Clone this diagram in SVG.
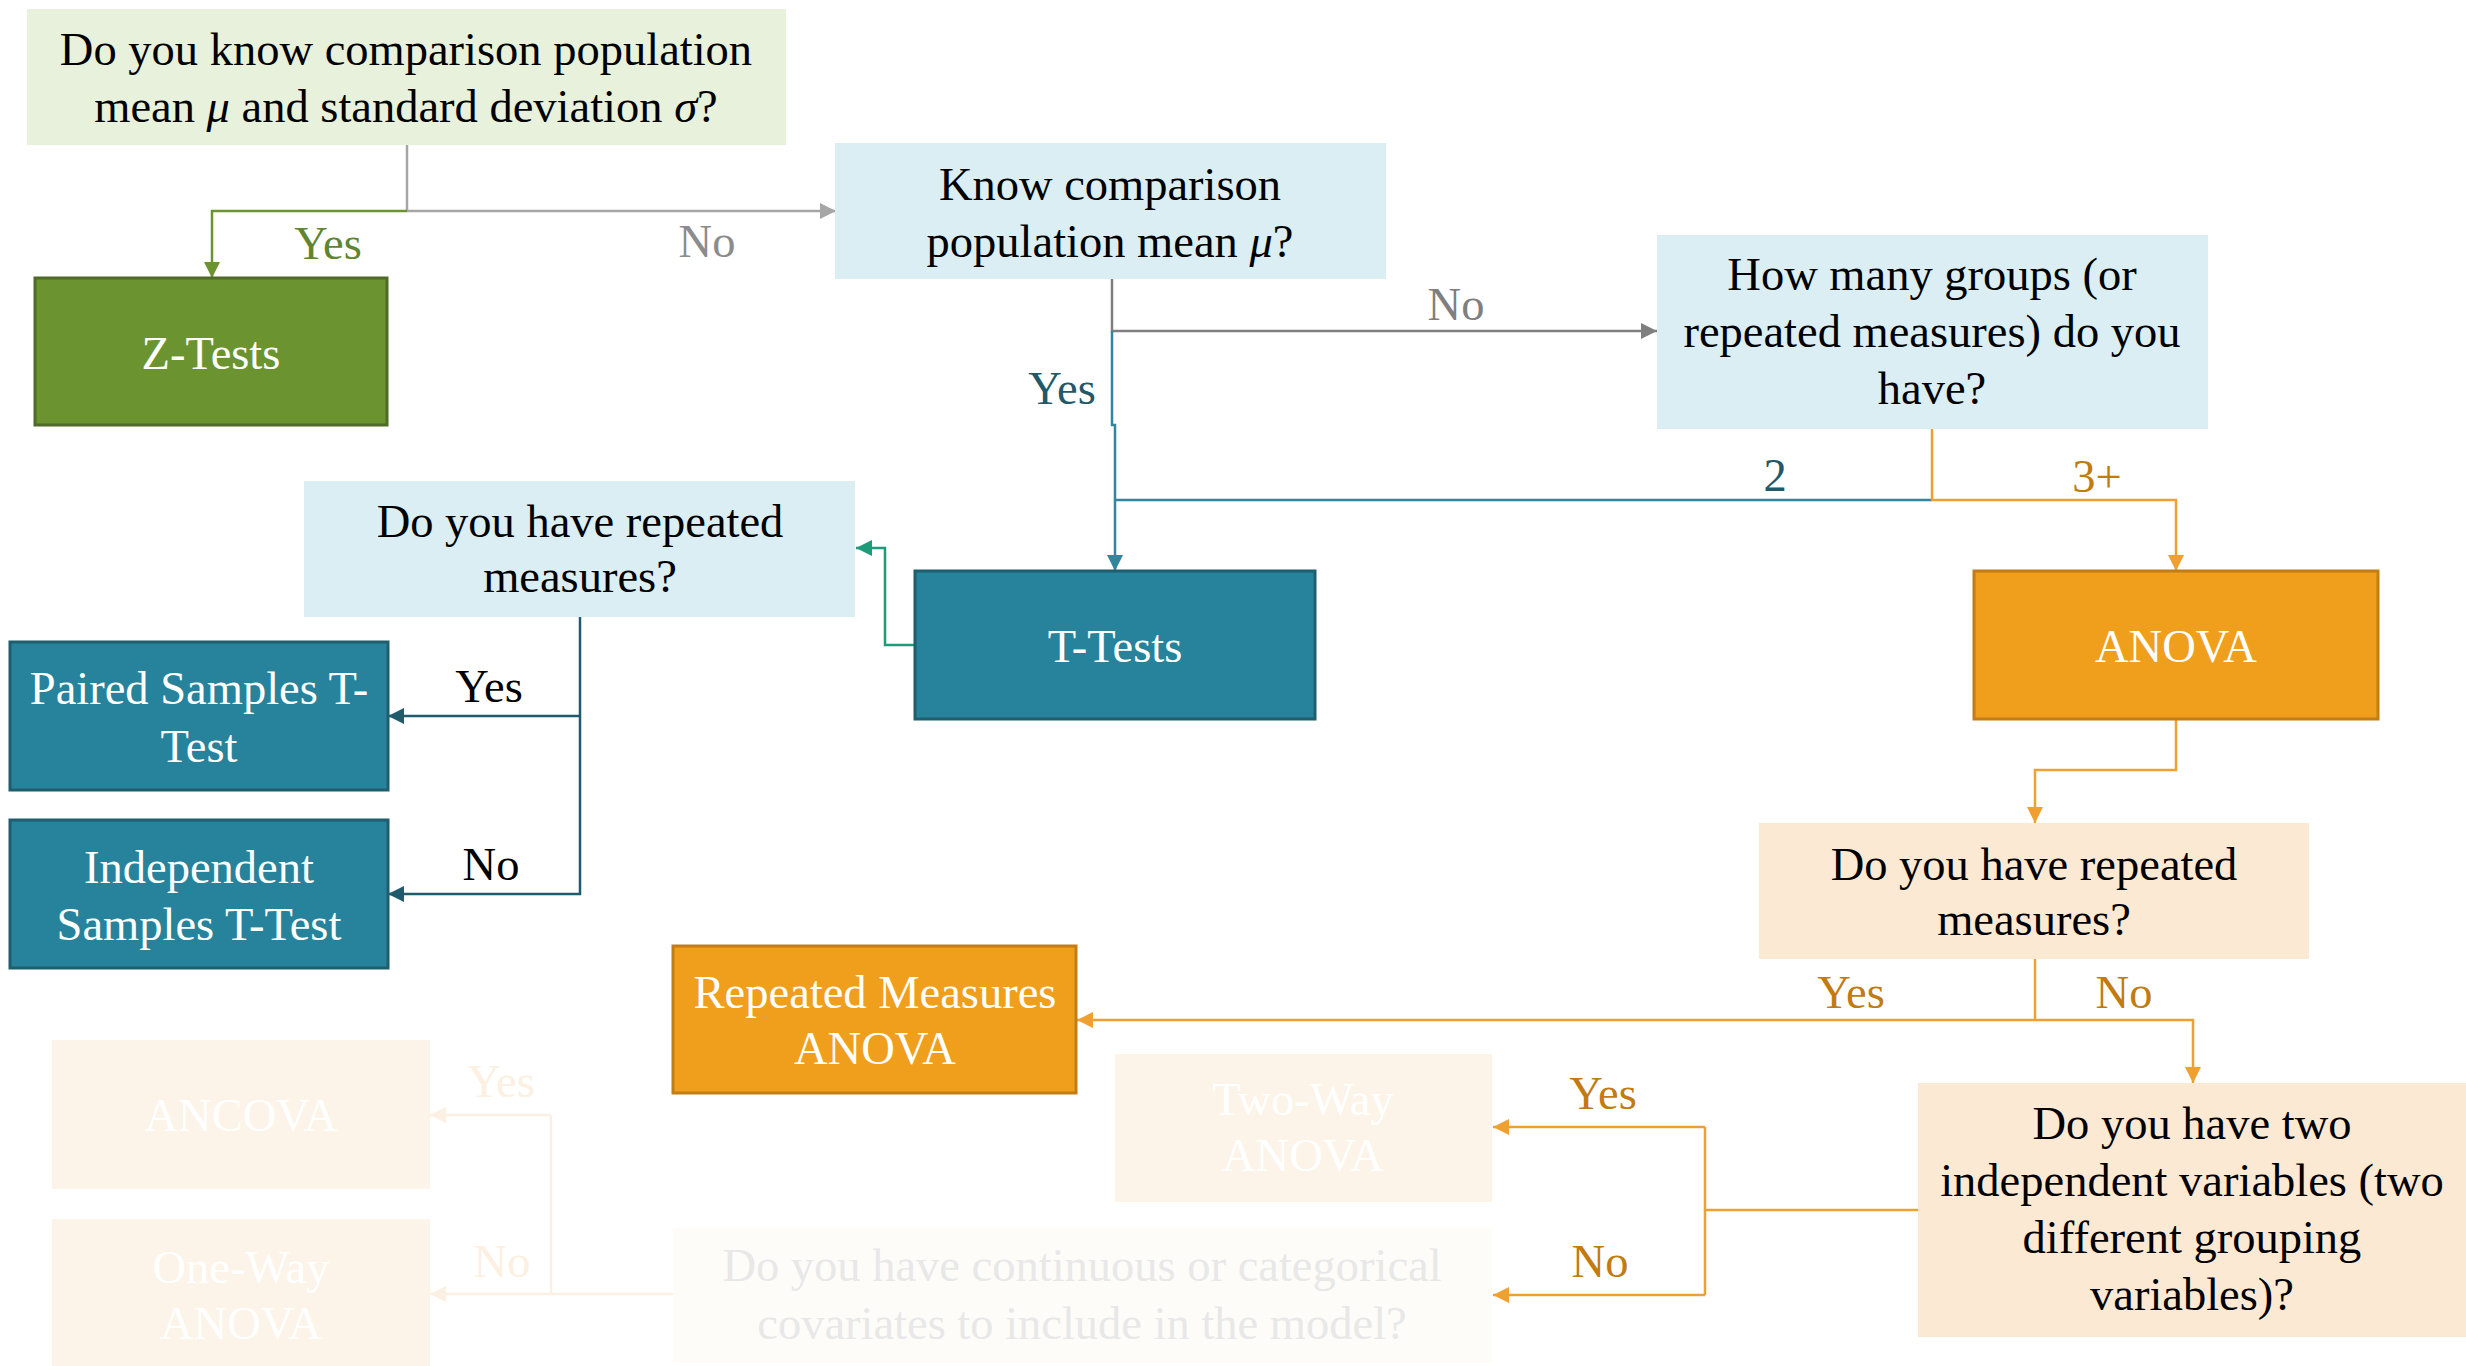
<svg xmlns="http://www.w3.org/2000/svg" width="2466" height="1366" viewBox="0 0 2466 1366">
<defs>
<style>
text{font-family:"Liberation Serif","Times New Roman",serif;font-size:46.5px;text-anchor:middle}
.dark{fill:#000}
.wt{fill:#fff}
.ln{fill:none;stroke-width:2.5}
.qg{fill:#E7F1DB}
.qb{fill:#DAEEF3}
.qo{fill:#FCE9D3}
.fz{fill:#6B9431;stroke:#4F6B27;stroke-width:3}
.ft{fill:#26839B;stroke:#1F5E6E;stroke-width:3}
.fo{fill:#F09F1C;stroke:#C27D14;stroke-width:3}
.ff{fill:#FCF4E8}
.fq{fill:#FEFCF9}
</style>
<marker id="aGray" markerUnits="userSpaceOnUse" markerWidth="16" markerHeight="16" refX="16" refY="8" orient="auto"><path d="M0,0 L16,8 L0,16 z" fill="#A6A6A6"/></marker>
<marker id="aGray2" markerUnits="userSpaceOnUse" markerWidth="16" markerHeight="16" refX="16" refY="8" orient="auto"><path d="M0,0 L16,8 L0,16 z" fill="#7F7F7F"/></marker>
<marker id="aGreen" markerUnits="userSpaceOnUse" markerWidth="16" markerHeight="16" refX="16" refY="8" orient="auto"><path d="M0,0 L16,8 L0,16 z" fill="#6B9431"/></marker>
<marker id="aTeal" markerUnits="userSpaceOnUse" markerWidth="16" markerHeight="16" refX="16" refY="8" orient="auto"><path d="M0,0 L16,8 L0,16 z" fill="#31859C"/></marker>
<marker id="aSea" markerUnits="userSpaceOnUse" markerWidth="16" markerHeight="16" refX="16" refY="8" orient="auto"><path d="M0,0 L16,8 L0,16 z" fill="#1E9B78"/></marker>
<marker id="aDTeal" markerUnits="userSpaceOnUse" markerWidth="16" markerHeight="16" refX="16" refY="8" orient="auto"><path d="M0,0 L16,8 L0,16 z" fill="#1F5B6B"/></marker>
<marker id="aOr" markerUnits="userSpaceOnUse" markerWidth="16" markerHeight="16" refX="16" refY="8" orient="auto"><path d="M0,0 L16,8 L0,16 z" fill="#F0A030"/></marker>
<marker id="aFd" markerUnits="userSpaceOnUse" markerWidth="16" markerHeight="16" refX="16" refY="8" orient="auto"><path d="M0,0 L16,8 L0,16 z" fill="#FBF0E1"/></marker>
</defs>

<g id="connectors">
<path class="ln" stroke="#A6A6A6" d="M407 145 V211"/>
<path class="ln" stroke="#A6A6A6" d="M407 211 H836" marker-end="url(#aGray)"/>
<path class="ln" stroke="#6B9431" d="M407 211 H212 V278" marker-end="url(#aGreen)"/>
<path class="ln" stroke="#7F7F7F" d="M1112 279 V331 H1657" marker-end="url(#aGray2)"/>
<path class="ln" stroke="#31859C" d="M1112 331 V425 H1115 V571" marker-end="url(#aTeal)"/>
<path class="ln" stroke="#31859C" d="M1932 500 H1115"/>
<path class="ln" stroke="#F0A030" d="M1932 429 V500 H2176 V571" marker-end="url(#aOr)"/>
<path class="ln" stroke="#1E9B78" d="M915 645 H885 V548 H856" marker-end="url(#aSea)"/>
<path class="ln" stroke="#1F5B6B" d="M580 617 V894 H388" marker-end="url(#aDTeal)"/>
<path class="ln" stroke="#1F5B6B" d="M580 716 H388" marker-end="url(#aDTeal)"/>
<path class="ln" stroke="#F0A030" d="M2176 719 V770 H2035 V823" marker-end="url(#aOr)"/>
<path class="ln" stroke="#F0A030" d="M2035 959 V1020 H1077" marker-end="url(#aOr)"/>
<path class="ln" stroke="#F0A030" d="M2035 1020 H2193 V1083" marker-end="url(#aOr)"/>
<path class="ln" stroke="#F0A030" d="M1918 1210 H1705 M1705 1127 V1295"/>
<path class="ln" stroke="#F0A030" d="M1705 1127 H1493" marker-end="url(#aOr)"/>
<path class="ln" stroke="#F0A030" d="M1705 1295 H1493" marker-end="url(#aOr)"/>
<path class="ln" stroke="#FBF0E1" d="M673 1294 H551 M551 1115 V1294"/>
<path class="ln" stroke="#FBF0E1" d="M551 1115 H430" marker-end="url(#aFd)"/>
<path class="ln" stroke="#FBF0E1" d="M551 1294 H430" marker-end="url(#aFd)"/>
<text x="328" y="259" fill="#5F8530">Yes</text>
<text x="707" y="257" fill="#8C8C8C">No</text>
<text x="1456" y="320" fill="#7F7F7F">No</text>
<text x="1062" y="404" fill="#215967">Yes</text>
<text x="1775" y="491" fill="#215967">2</text>
<text x="2097" y="492" fill="#C27B11">3+</text>
<text x="489" y="702" fill="#000">Yes</text>
<text x="491" y="880" fill="#000">No</text>
<text x="1851" y="1008" fill="#C27B11">Yes</text>
<text x="2124" y="1008" fill="#C27B11">No</text>
<text x="1603" y="1109" fill="#C27B11">Yes</text>
<text x="1600" y="1277" fill="#C27B11">No</text>
<text x="501" y="1097" fill="#FBF0E1">Yes</text>
<text x="502" y="1277" fill="#FBF0E1">No</text>
</g>

<g id="q-know-mu-sigma">
<rect class="qg" x="27" y="9" width="759" height="136"/>
<text class="dark" x="406" y="65">Do you know comparison population</text>
<text class="dark" x="406" y="122">mean <tspan font-style="italic">μ</tspan> and standard deviation <tspan font-style="italic">σ</tspan>?</text>
</g>

<g id="z-tests">
<rect class="fz" x="35" y="278" width="352" height="147"/>
<text class="wt" x="211" y="369">Z-Tests</text>
</g>

<g id="q-know-mu">
<rect class="qb" x="835" y="143" width="551" height="136"/>
<text class="dark" x="1110" y="200">Know comparison</text>
<text class="dark" x="1110" y="257">population mean <tspan font-style="italic">μ</tspan>?</text>
</g>

<g id="q-groups">
<rect class="qb" x="1657" y="235" width="551" height="194"/>
<text class="dark" x="1932" y="290">How many groups (or</text>
<text class="dark" x="1932" y="347">repeated measures) do you</text>
<text class="dark" x="1932" y="404">have?</text>
</g>

<g id="t-tests">
<rect class="ft" x="915" y="571" width="400" height="148"/>
<text class="wt" x="1115" y="662">T-Tests</text>
</g>

<g id="anova">
<rect class="fo" x="1974" y="571" width="404" height="148"/>
<text class="wt" x="2176" y="662">ANOVA</text>
</g>

<g id="q-repeated-t">
<rect class="qb" x="304" y="481" width="551" height="136"/>
<text class="dark" x="580" y="537">Do you have repeated</text>
<text class="dark" x="580" y="592">measures?</text>
</g>

<g id="paired-t">
<rect class="ft" x="10" y="642" width="378" height="148"/>
<text class="wt" x="199" y="704">Paired Samples T-</text>
<text class="wt" x="199" y="762">Test</text>
</g>

<g id="independent-t">
<rect class="ft" x="10" y="820" width="378" height="148"/>
<text class="wt" x="199" y="883">Independent</text>
<text class="wt" x="199" y="940">Samples T-Test</text>
</g>

<g id="q-repeated-anova">
<rect class="qo" x="1759" y="823" width="550" height="136"/>
<text class="dark" x="2034" y="880">Do you have repeated</text>
<text class="dark" x="2034" y="935">measures?</text>
</g>

<g id="rm-anova">
<rect class="fo" x="673" y="946" width="403" height="147"/>
<text class="wt" x="875" y="1008">Repeated Measures</text>
<text class="wt" x="875" y="1064">ANOVA</text>
</g>

<g id="q-two-iv">
<rect class="qo" x="1918" y="1083" width="560" height="254"/>
<text class="dark" x="2192" y="1139">Do you have two</text>
<text class="dark" x="2192" y="1196">independent variables (two</text>
<text class="dark" x="2192" y="1253">different grouping</text>
<text class="dark" x="2192" y="1310">variables)?</text>
</g>

<g id="two-way-anova">
<rect class="ff" x="1115" y="1054" width="377" height="148"/>
<text class="wt" x="1303" y="1115">Two-Way</text>
<text class="wt" x="1303" y="1171">ANOVA</text>
</g>

<g id="q-covariates">
<rect class="fq" x="673" y="1228" width="819" height="135"/>
<text x="1082" y="1281" fill="#E8E8E8">Do you have continuous or categorical</text>
<text x="1082" y="1339" fill="#E8E8E8">covariates to include in the model?</text>
</g>

<g id="ancova">
<rect class="ff" x="52" y="1040" width="378" height="149"/>
<text class="wt" x="241" y="1131">ANCOVA</text>
</g>

<g id="one-way-anova">
<rect class="ff" x="52" y="1219" width="378" height="150"/>
<text class="wt" x="241" y="1283">One-Way</text>
<text class="wt" x="241" y="1339">ANOVA</text>
</g>
</svg>
